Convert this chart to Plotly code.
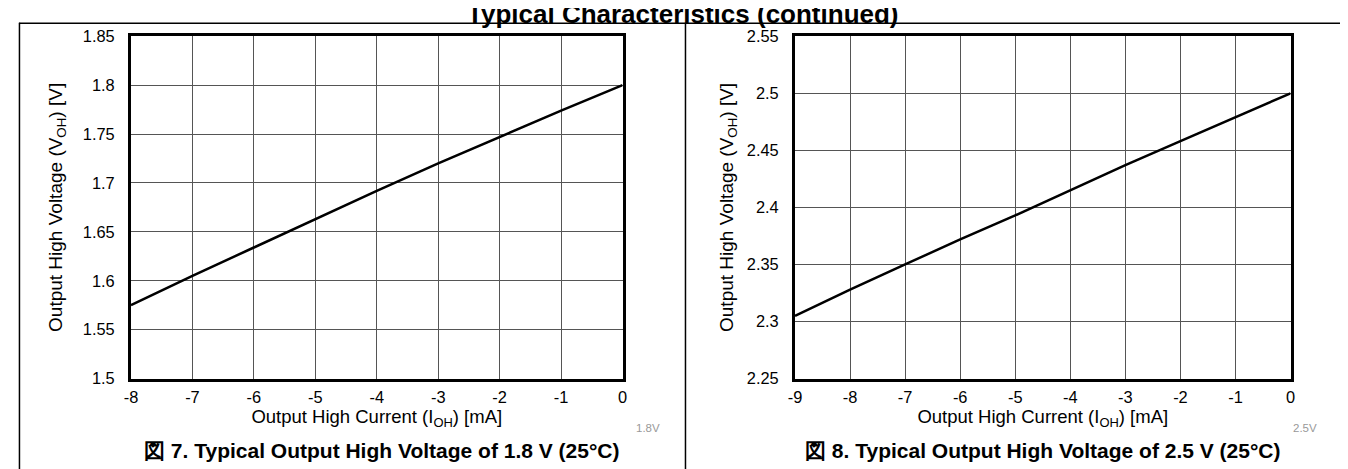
import plotly.graph_objects as go

W, H = 1348, 469

# ---- data ----
current_18 = [-8, -7, -6, -5, -4, -3, -2, -1, 0]
voh_18 = [1.575, 1.605, 1.634, 1.663, 1.692, 1.720, 1.747, 1.774, 1.800]

current_25 = [-9, -8, -7, -6, -5, -4, -3, -2, -1, 0]
voh_25 = [2.305, 2.328, 2.350, 2.372, 2.393, 2.415, 2.437, 2.458, 2.479, 2.500]

xticks_18 = [-8, -7, -6, -5, -4, -3, -2, -1, 0]
xticks_25 = [-9, -8, -7, -6, -5, -4, -3, -2, -1, 0]
yticks_18 = [1.5, 1.55, 1.6, 1.65, 1.7, 1.75, 1.8, 1.85]
yticks_25 = [2.25, 2.3, 2.35, 2.4, 2.45, 2.5, 2.55]

page_title = "Typical Characteristics (continued)"
captions = ["図 7. Typical Output High Voltage of 1.8 V (25°C)",
            "図 8. Typical Output High Voltage of 2.5 V (25°C)"]
tags = ["1.8V", "2.5V"]
x_title = "Output High Current (I<sub>OH</sub>) [mA]"
y_title = "Output High Voltage (V<sub>OH</sub>) [V]"

FONT = "Arial, 'Liberation Sans', sans-serif"


def px(x):
    return x / W


def py(y):
    return 1 - y / H


def fmt(v):
    return "%g" % v


fig = go.Figure()
fig.add_trace(go.Scatter(x=current_18, y=voh_18, mode="lines",
                         line=dict(color="black", width=2.5),
                         xaxis="x", yaxis="y", showlegend=False, hoverinfo="skip"))
fig.add_trace(go.Scatter(x=current_25, y=voh_25, mode="lines",
                         line=dict(color="black", width=2.5),
                         xaxis="x2", yaxis="y2", showlegend=False, hoverinfo="skip"))

axis_common = dict(showgrid=True, gridcolor="#555", gridwidth=1,
                   showline=True, linecolor="black", linewidth=3, mirror=True,
                   zeroline=False, ticks="", fixedrange=True,
                   tickfont=dict(size=16.4, color="black", family=FONT))
common_x = dict(axis_common, title_font=dict(size=18.5, color="black", family=FONT),
                title_standoff=1, ticklabelstandoff=2)
common_y = dict(axis_common, title_font=dict(size=19, color="black", family=FONT),
                ticklabelstandoff=10)

top, bottom = 20, 376
fig.update_layout(
    width=W, height=H, margin=dict(l=0, r=0, t=0, b=0),
    paper_bgcolor="white", plot_bgcolor="white",
    font=dict(family=FONT, color="black"),
    xaxis=dict(domain=[px(117), px(613)], range=[-8, 0], anchor="y",
               tickvals=xticks_18, ticktext=[fmt(v) for v in xticks_18],
               title_text=x_title, **common_x),
    yaxis=dict(domain=[py(bottom), py(top)], range=[1.5, 1.85], anchor="x",
               tickvals=yticks_18, ticktext=[fmt(v) for v in yticks_18],
               title_text=y_title, title_standoff=16, **common_y),
    xaxis2=dict(domain=[px(787), px(1287)], range=[-9, 0], anchor="y2",
                tickvals=xticks_25, ticktext=[fmt(v) for v in xticks_25],
                title_text=x_title, **common_x),
    yaxis2=dict(domain=[py(bottom), py(top)], range=[2.25, 2.55], anchor="x2",
                tickvals=yticks_25, ticktext=[fmt(v) for v in yticks_25],
                title_text=y_title, title_standoff=9, **common_y),
)

# frame lines
line_style = dict(color="black", width=1.5)
for (x0, y0, x1, y1) in [(4, 6.5, 1344, 6.5), (4.5, 6, 4.5, H + 5),
                         (676.5, 6, 676.5, H + 5), (1343.5, 6, 1343.5, H + 5)]:
    fig.add_shape(type="line", xref="paper", yref="paper",
                  x0=px(x0), x1=px(x1), y0=py(y0), y1=py(y1), line=line_style)

ann = []
ann.append(dict(text="<b>" + page_title + "</b>", x=px(674), y=py(-3), xref="paper", yref="paper",
                showarrow=False, xanchor="center", yanchor="middle",
                font=dict(size=26, color="black", family=FONT)))
for cx, cap in zip([370, 1037], captions):
    ann.append(dict(text="<b>" + cap + "</b>", x=px(cx), y=py(451), xref="paper", yref="paper",
                    showarrow=False, xanchor="center", yanchor="middle",
                    font=dict(size=21, color="black", family=FONT)))
for tx, tg in zip([639, 1302], tags):
    ann.append(dict(text=tg, x=px(tx), y=py(427), xref="paper", yref="paper",
                    showarrow=False, xanchor="center", yanchor="middle",
                    font=dict(size=11.5, color="#999", family=FONT)))
fig.update_layout(annotations=ann)

fig.write_html("out.html", config={"displayModeBar": False, "staticPlot": True})
